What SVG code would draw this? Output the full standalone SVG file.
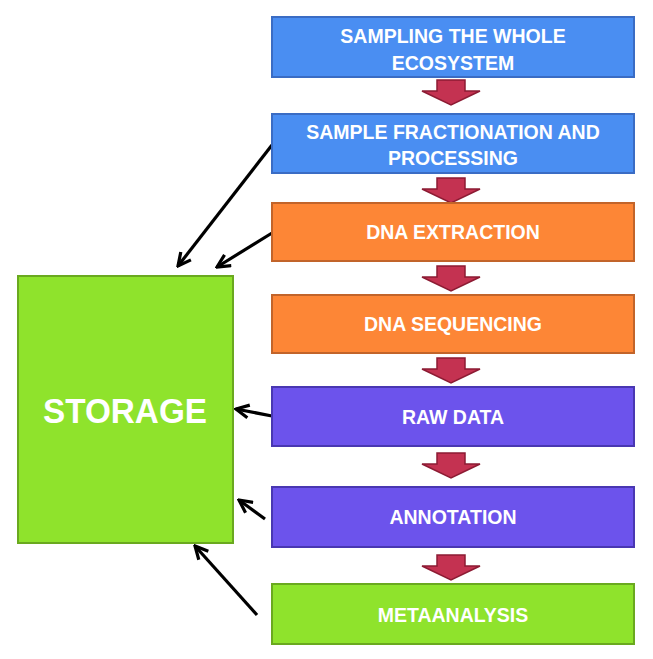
<svg xmlns="http://www.w3.org/2000/svg" width="653" height="659" viewBox="0 0 653 659">
<defs>
<style>
.box{stroke-width:2}
.blue{fill:#4a8ef2;stroke:#3a6cc4}
.orange{fill:#fd8636;stroke:#c2642a}
.purple{fill:#6c53ec;stroke:#4937b2}
.green{fill:#8fe32c;stroke:#6aa91f}
.t{font-family:"Liberation Sans",Arial,sans-serif;font-weight:bold;fill:#fff;text-anchor:middle;font-size:19.5px}
.flow{fill:#c43251;stroke:#8c1b33;stroke-width:1.5;stroke-linejoin:miter}
.link{stroke:#000;stroke-width:3.2;fill:none;marker-end:url(#ah)}
</style>
<marker id="ah" viewBox="0 0 10 10" refX="9" refY="5" markerWidth="5" markerHeight="5" orient="auto" markerUnits="strokeWidth">
<path d="M1,1 L9,5 L1,9" fill="none" stroke="#000" stroke-width="2"/>
</marker>
</defs>
<rect width="653" height="659" fill="#fff"/>
<g id="connectors">
<path class="flow" d="M437,80 h28 v11 h15 l-29,14 l-29,-14 h15 z"/>
<path class="flow" d="M437,178 h28 v11 h15 l-29,14 l-29,-14 h15 z"/>
<path class="flow" d="M437,266 h28 v11 h15 l-29,14 l-29,-14 h15 z"/>
<path class="flow" d="M437,358 h28 v11 h15 l-29,14 l-29,-14 h15 z"/>
<path class="flow" d="M437,453 h28 v11 h15 l-29,14 l-29,-14 h15 z"/>
<path class="flow" d="M437,555 h28 v11 h15 l-29,14 l-29,-14 h15 z"/>
<line class="link" x1="272" y1="145" x2="178" y2="266"/>
<line class="link" x1="272" y1="233" x2="217" y2="267"/>
<line class="link" x1="272" y1="416" x2="236" y2="409"/>
<line class="link" x1="265" y1="519" x2="239" y2="500"/>
<line class="link" x1="257" y1="615" x2="195" y2="546"/>
</g>
<g id="storage">
<rect class="box green" x="18" y="276" width="215" height="267"/>
<text class="t" x="125" y="423" style="font-size:35px" textLength="164" lengthAdjust="spacingAndGlyphs">STORAGE</text>
</g>
<g id="sampling">
<rect class="box blue" x="272" y="17" width="362" height="60"/>
<text class="t" x="453" y="43">SAMPLING THE WHOLE</text>
<text class="t" x="453" y="70">ECOSYSTEM</text>
</g>
<g id="fractionation">
<rect class="box blue" x="272" y="114" width="362" height="59"/>
<text class="t" x="453" y="139">SAMPLE FRACTIONATION AND</text>
<text class="t" x="453" y="165">PROCESSING</text>
</g>
<g id="extraction">
<rect class="box orange" x="272" y="203" width="362" height="58"/>
<text class="t" x="453" y="239">DNA EXTRACTION</text>
</g>
<g id="sequencing">
<rect class="box orange" x="272" y="295" width="362" height="58"/>
<text class="t" x="453" y="331">DNA SEQUENCING</text>
</g>
<g id="rawdata">
<rect class="box purple" x="272" y="387" width="362" height="59"/>
<text class="t" x="453" y="424">RAW DATA</text>
</g>
<g id="annotation">
<rect class="box purple" x="272" y="487" width="362" height="60"/>
<text class="t" x="453" y="524">ANNOTATION</text>
</g>
<g id="metaanalysis">
<rect class="box green" x="272" y="584" width="362" height="60"/>
<text class="t" x="453" y="622">METAANALYSIS</text>
</g>
</svg>
